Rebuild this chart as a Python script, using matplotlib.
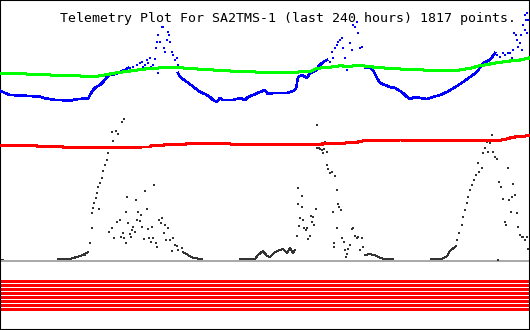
import matplotlib
matplotlib.use("Agg")
import matplotlib.pyplot as plt
import numpy as np

# horizontal position = sample column (0..530), vertical = plot level (0 top .. 330 bottom)
title = "Telemetry Plot For SA2TMS-1 (last 240 hours) 1817 points."

# green trace
green_x = [0, 20, 40, 60, 80, 95, 110, 120, 130, 145, 163, 180, 197, 213, 230, 247, 263, 280,
           297, 303, 310, 317, 330, 340, 350, 357, 370, 380, 400, 430, 460, 470, 480, 490, 500,
           510, 520, 529]
green_y = [73.3, 73.7, 74.7, 75.3, 76, 76.7, 74, 72.3, 71, 69, 67.7, 67.7, 69, 70, 71, 71.7, 72.3,
           72.7, 72.3, 71, 71.7, 68.3, 67.3, 65.7, 66.7, 65, 66.7, 67.7, 69, 70.3, 70, 68.3, 65.7,
           64, 62.3, 61, 60, 58]

# blue trace, continuous parts (None = gap)
blue_x = [0, 5, 10, 20, 30, 40, 45, 50, 55, 60, 70, 75, 80, 85, 88, 90, 93, 96, 100, 104, 107,
          110, 115, 120, 125, 128, None,
          178, 180, 187, 195, 200, 205, 210, 213, 217, 220, 223, 233, 240, 245, 248, 253, 260,
          265, 268, 273, 280, 287, 293, 296, 298, 302, 307, 310, 317, 318, 322, 325, 327, None,
          365, 370, 373, 377, 380, 385, 390, 395, 400, 403, 407, 410, 415, 420, 427, 430, 433,
          440, 447, 452, 457, 463, 470, 477, 483, 490, 495]
blue_y = [90.7, 93, 95, 95.5, 96, 96.7, 98.5, 99, 100, 100, 100.7, 99.5, 99, 98.5, 99, 95, 90,
          87, 85, 81, 77, 75, 74, 72, 70, 68, None,
          73, 77, 82, 88, 92, 94, 97, 100, 102, 98, 100, 100, 98, 100, 97, 95, 92,
          90, 94, 93, 93, 93, 91, 89, 77, 75, 78, 73, 70, 67, 63, 61, 60, None,
          68, 67, 70, 78, 83, 85, 87, 88, 91, 93, 97, 99, 97, 98, 99, 98, 97,
          95, 92, 89, 86, 82, 77, 72, 63, 60, 53]

# blue trace, scattered samples
blue_dot_x = [130, 133, 137, 138, 140, 142, 143, 145, 147, 148, 150, 151, 153, 155, 156, 157,
              158, 158, 160, 162, 163, 164, 165, 167, 168, 169, 170, 172, 173, 175, 177, 178,
              330, 332, 333, 335, 337, 338, 340, 342, 343, 345, 347, 350, 352, 353, 355, 357,
              358, 360, 362, 363,
              497, 500, 503, 505, 508, 510, 512, 513, 514, 516, 517, 518, 520, 521, 522, 523,
              525, 525, 526, 527, 527, 528]
blue_dot_y = [68, 67, 65, 70, 63, 62, 67, 65, 60, 63, 58, 67, 65, 59, 48, 42,
              35, 73, 42, 27, 27, 48, 52, 40, 32, 35, 42, 52, 55, 60, 58, 65,
              62, 52, 58, 48, 45, 42, 40, 38, 48, 58, 70, 43, 50, 25, 27, 22,
              33, 48, 47, 65,
              55, 57, 53, 55, 53, 53, 58, 50, 33, 35, 40, 47, 43, 35, 50, 25,
              30, 15, 20, 33, 13, 20]

# red trace
red_x = [0, 37, 38, 63, 64, 140, 141, 150, 151, 163, 164, 185, 186, 193, 194, 230, 260, 300,
         322, 323, 345, 346, 357, 358, 367, 400, 500, 505, 510, 515, 520, 529]
red_y = [145.7, 145.7, 146.7, 146.7, 147.7, 147.7, 147, 147, 145.7, 145.7, 144.7, 144.7, 143.7,
         143.7, 143.3, 144, 144.5, 144.7, 144.7, 143.3, 143.3, 142.7, 142.7, 141.7, 140.2, 140,
         140.3, 139.3, 138, 137, 136.5, 135.7]

# black trace, low continuous stretches
black_seg_x = [[0, 3],
               [58, 70, 75, 80, 85, 88],
               [183, 188, 193, 202],
               [240, 255, 258, 263, 267, 270, 275, 280, 283, 287, 290, 293, 295],
               [365, 370, 377, 380, 385, 393],
               [431, 442, 447, 450, 456]]
black_seg_y = [[259, 259],
               [259, 259, 257.5, 256, 254, 252],
               [252, 255, 258, 259],
               [259, 259, 255, 251, 256, 257, 252, 250, 249, 253, 248, 253, 250],
               [255, 254, 256, 258, 259, 259],
               [259, 259, 256, 251, 246]]

# black trace, scattered samples
black_x = [85, 88, 90, 92, 92.3, 93.3, 94.3, 95.7, 96.7, 97.7, 100, 101.7, 103.3, 105, 106.7,
           107.7, 110, 111.7, 113.3, 115.7, 118.3, 121.7, 124.3,
           99.3, 109, 112.3, 114.3, 117.3, 120, 120.7, 122.7, 124, 125.7, 126.3, 127.3, 128.3,
           130, 131, 131.7, 133.3, 135, 135.7, 136.7, 138.3, 140.7, 140, 142.3, 144, 145,
           146.7, 147.7, 149.3, 150.7, 151.7, 153.3, 154.3, 155.7, 157.3, 159, 161, 162.3,
           163.7, 165, 166, 168.3, 170, 171.7, 173.3, 175, 176.7, 178.3, 181.7,
           296.7, 297.7, 298.3, 299.3, 300, 301.7, 302.3, 303.3, 304.3, 305.7, 306.7, 308.3,
           310, 311, 312.3, 313.3, 314.3, 315.7, 317.3, 316.7, 319, 320, 321.7, 322.7, 324,
           325, 326.7, 327.3, 328.3, 330, 331.7, 332.7, 334.3, 334.3, 335, 336.7, 337.3,
           338.3, 339.3, 340.7, 342.3, 344, 345, 346, 347.3, 348.3, 350, 351.7, 353.3, 355,
           356.7, 358.3, 360, 361.7, 363.3,
           457, 459, 461.7, 463, 465, 466.7, 468.3, 470, 471.7, 474, 476, 478.3, 479.3, 481.7,
           483.3, 485, 486.7, 487.7, 490, 491.7, 492.7, 495, 497.3, 498, 499.3, 500.7, 502.7,
           505, 506, 508.3, 509.3, 510.7, 511.7, 513.3, 515, 516.7, 518.3, 520, 521.7, 523.3,
           525, 526.7, 528.3]
black_y = [255, 251.7, 243, 228, 213, 208, 203, 198, 193, 187, 183, 178, 171, 165, 160,
           153, 148, 132, 141, 131, 134, 122, 119,
           209, 232, 228, 238, 222, 220, 237, 233, 238, 243, 212, 197, 223,
           234, 237, 230, 227, 232, 200, 220, 212, 215, 221, 227, 239, 191,
           209, 229, 238, 242, 227, 238, 185, 243, 247, 220, 223, 218,
           233, 225, 240, 228, 240, 251, 238, 245, 246, 250, 248,
           236, 204, 188, 226, 218, 207, 196, 220, 228, 230, 228, 239,
           236, 216, 222, 217, 225, 209, 125, 148, 148, 149, 150, 153, 149,
           142, 152, 165, 169, 173, 172, 212, 247, 243, 176, 228, 190,
           204, 207, 210, 238, 242, 250, 257, 254, 249, 245, 229, 228, 236,
           238, 237, 250, 238, 247,
           240, 233, 225, 217, 210, 203, 197, 190, 185, 180, 175, 163, 172, 168,
           153, 148, 142, 152, 143, 135, 152, 157, 159, 260, 182, 187, 199,
           222, 225, 168, 200, 212, 197, 184, 195, 213, 227, 235, 237, 237,
           240, 237, 249]

# status bit rows drawn as bands at the bottom
status_rows = [280, 284, 288, 292, 296, 300, 304, 308]
zero_level = 260.5

plt.rcParams["lines.antialiased"] = False

fig = plt.figure(figsize=(5.3, 3.3), dpi=100)
fig.patch.set_facecolor("white")
ax = fig.add_axes([0, 0, 1, 1])
ax.set_xlim(0, 530)
ax.set_ylim(330, 0)
ax.set_xticks([])
ax.set_yticks([])
for s in ax.spines.values():
    s.set_color("black")
    s.set_linewidth(1.5)

px = 0.72  # one pixel in points

ax.axhline(zero_level, color="#aaaaaa", lw=2 * px, zorder=1)
for r in status_rows:
    ax.axhspan(r, r + 3, xmin=1 / 530, xmax=529 / 530, color="#ff0000", lw=0,
               antialiased=False, zorder=1)

for sx, sy in zip(black_seg_x, black_seg_y):
    ax.plot(sx, sy, color="#333333", lw=1.0 * px, zorder=2)
ax.plot(black_x, black_y, ls="none", marker="s", ms=2 * px, mew=0,
        color="#333333", zorder=2)

bx = np.array(blue_x, dtype=float)
by = np.array(blue_y, dtype=float)
ax.plot(bx, by, color="#0000ff", lw=1.6 * px, zorder=3)
ax.plot(blue_dot_x, blue_dot_y, ls="none", marker="s", ms=2 * px, mew=0,
        color="#0000ff", zorder=3)

ax.plot(green_x, green_y, color="#00ff00", lw=2.0 * px, zorder=4)
ax.plot(red_x, red_y, color="#ff0000", lw=2.0 * px, zorder=4)

fig.text(60 / 530, 1 - 22 / 330, title, family="DejaVu Sans Mono", fontsize=9.5,
         color="black", ha="left", va="baseline")

fig.savefig("out.png", dpi=100, facecolor="white")
